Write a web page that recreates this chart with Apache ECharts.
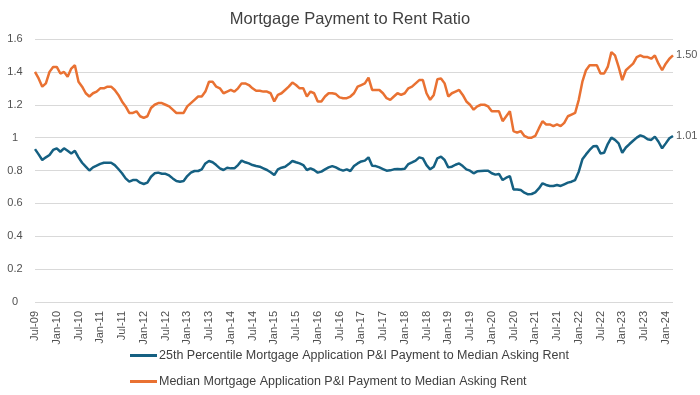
<!DOCTYPE html>
<html>
<head>
<meta charset="utf-8">
<script src="https://cdn.jsdelivr.net/npm/echarts@6/dist/echarts.min.js"></script>
<style>html,body{margin:0;padding:0;background:#fff}#chart{width:700px;height:395px}</style>
</head>
<body>
<div id="chart"></div>
<script>
// Monthly categories Jul-09 .. Mar-24
const monthNames = ['Jan','Feb','Mar','Apr','May','Jun','Jul','Aug','Sep','Oct','Nov','Dec'];
const startYear = 2009, startMonth = 6, monthCount = 177;
const categories = [];
for (let k = 0; k < monthCount; k++) {
  const m = (startMonth + k) % 12;
  const y = startYear + Math.floor((startMonth + k) / 12);
  categories.push(monthNames[m] + '-' + String(y % 100).padStart(2, '0'));
}

const yTicks = [0, 0.2, 0.4, 0.6, 0.8, 1, 1.2, 1.4, 1.6];

const seriesNames = [
  '25th Percentile Mortgage Application P&I Payment to Median Asking Rent',
  'Median Mortgage Application P&I Payment to Median Asking Rent'
];

const p25Ratio = [
  0.93,0.898,0.864,0.88,0.894,0.925,0.935,0.914,0.935,0.92,0.904,0.92,
  0.88,0.847,0.823,0.80,0.819,0.829,0.84,0.847,0.847,0.847,0.833,0.809,
  0.783,0.752,0.732,0.742,0.742,0.726,0.718,0.726,0.762,0.783,0.787,0.78,
  0.78,0.77,0.752,0.736,0.732,0.736,0.766,0.787,0.797,0.797,0.807,0.843,
  0.858,0.85,0.833,0.813,0.803,0.817,0.813,0.813,0.833,0.86,0.85,0.843,
  0.833,0.827,0.823,0.813,0.803,0.789,0.772,0.807,0.817,0.823,0.839,0.858,
  0.85,0.843,0.833,0.803,0.813,0.803,0.787,0.793,0.807,0.819,0.827,0.819,
  0.807,0.799,0.807,0.797,0.827,0.843,0.855,0.86,0.88,0.829,0.827,0.819,
  0.809,0.799,0.801,0.807,0.809,0.807,0.811,0.839,0.849,0.86,0.88,0.874,
  0.833,0.807,0.823,0.874,0.884,0.864,0.819,0.823,0.835,0.843,0.827,0.807,
  0.799,0.783,0.795,0.797,0.799,0.799,0.783,0.775,0.779,0.742,0.756,0.766,
  0.685,0.685,0.681,0.665,0.655,0.657,0.667,0.691,0.722,0.712,0.706,0.706,
  0.712,0.706,0.716,0.726,0.732,0.742,0.793,0.868,0.898,0.925,0.947,0.949,
  0.904,0.908,0.961,1.00,0.986,0.965,0.908,0.94,0.961,0.981,1.00,1.014,
  1.006,0.99,0.986,1.006,0.975,0.935,0.965,0.996,1.01
];

const medianRatio = [
  1.40,1.36,1.31,1.33,1.40,1.43,1.43,1.39,1.40,1.37,1.42,1.44,
  1.34,1.31,1.27,1.25,1.27,1.28,1.30,1.30,1.31,1.31,1.29,1.26,
  1.22,1.19,1.15,1.15,1.16,1.13,1.12,1.13,1.18,1.20,1.21,1.21,
  1.20,1.19,1.17,1.15,1.15,1.15,1.19,1.21,1.23,1.25,1.25,1.28,
  1.34,1.34,1.31,1.30,1.27,1.28,1.29,1.28,1.30,1.33,1.33,1.32,
  1.30,1.285,1.285,1.28,1.28,1.27,1.22,1.26,1.27,1.29,1.31,1.335,
  1.32,1.30,1.30,1.25,1.28,1.27,1.22,1.22,1.25,1.27,1.27,1.265,
  1.245,1.24,1.24,1.25,1.27,1.31,1.32,1.33,1.365,1.29,1.29,1.29,
  1.27,1.24,1.23,1.25,1.27,1.26,1.27,1.30,1.31,1.33,1.35,1.35,
  1.27,1.23,1.26,1.355,1.36,1.33,1.25,1.27,1.28,1.29,1.26,1.22,
  1.20,1.17,1.19,1.20,1.20,1.19,1.16,1.16,1.16,1.10,1.13,1.16,
  1.04,1.03,1.04,1.01,1.00,1.00,1.01,1.056,1.10,1.08,1.08,1.07,
  1.08,1.07,1.09,1.13,1.14,1.15,1.23,1.34,1.41,1.44,1.44,1.44,
  1.39,1.39,1.43,1.52,1.50,1.43,1.35,1.41,1.43,1.45,1.49,1.50,
  1.49,1.49,1.48,1.50,1.45,1.41,1.45,1.48,1.50
];

const colors = ['#156082', '#E97132'];
const textFont = "'Liberation Sans', Arial, sans-serif";

const chart = echarts.init(document.getElementById('chart'), null, {renderer: 'canvas'});

function makeSeries(idx, data) {
  return {
    name: seriesNames[idx],
    type: 'line',
    data: data,
    symbol: 'none',
    smooth: false,
    lineStyle: {color: colors[idx], width: 2.5},
    itemStyle: {color: colors[idx]},
    endLabel: {
      show: true,
      formatter: p => Number(p.value).toFixed(2),
      color: '#595959',
      fontSize: 11,
      fontFamily: textFont,
      distance: 3
    },
    emphasis: {disabled: true}
  };
}

chart.setOption({
  animation: false,
  backgroundColor: '#ffffff',
  title: {
    text: 'Mortgage Payment to Rent Ratio',
    left: 'center',
    top: 6,
    textStyle: {fontFamily: textFont, fontSize: 16.5, fontWeight: 'normal', color: '#404040'}
  },
  grid: {left: 35, right: 27, top: 39, bottom: 93, containLabel: false},
  xAxis: {
    type: 'category',
    data: categories,
    boundaryGap: false,
    axisLine: {show: false},
    axisTick: {show: false},
    splitLine: {show: false},
    axisLabel: {
      interval: 5,
      rotate: 90,
      margin: 9,
      fontSize: 11,
      fontFamily: textFont,
      color: '#505050'
    }
  },
  yAxis: {
    type: 'value',
    min: yTicks[0],
    max: yTicks[yTicks.length - 1],
    interval: 0.2,
    axisLine: {show: false},
    axisTick: {show: false},
    splitLine: {lineStyle: {color: '#d9d9d9', width: 1}},
    axisLabel: {
      formatter: v => String(Math.round(v * 10) / 10),
      align: 'center',
      margin: 20,
      fontSize: 11,
      fontFamily: textFont,
      color: '#505050'
    }
  },
  legend: {
    orient: 'vertical',
    left: 130,
    top: 349,
    padding: 0,
    itemGap: 13,
    itemWidth: 27,
    itemHeight: 3,
    icon: 'rect',
    textStyle: {fontFamily: textFont, fontSize: 12.5, color: '#404040', padding: [0, 0, 0, -3]},
    data: seriesNames
  },
  series: [makeSeries(0, p25Ratio), makeSeries(1, medianRatio)]
});
</script>
</body>
</html>
